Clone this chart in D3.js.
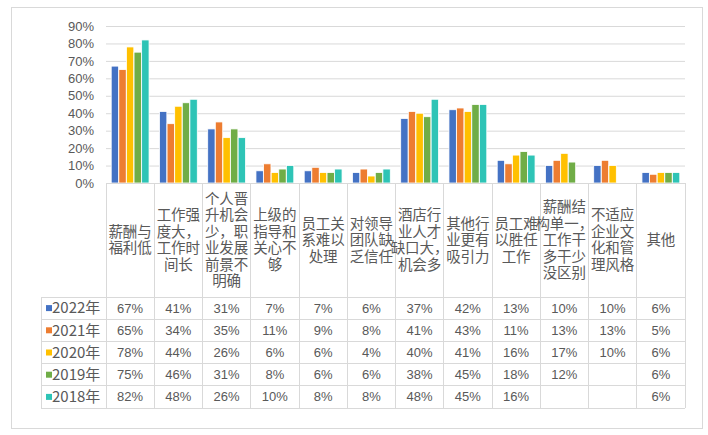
<!DOCTYPE html>
<html>
<head>
<meta charset="utf-8">
<script src="https://cdn.jsdelivr.net/npm/d3@7"></script>
<style>
  body { margin: 0; background: #fff; }
</style>
</head>
<body>
<div id="chart"></div>
<script>
// 数据
var categories = [
    "薪酬与福利低",
    "工作强度大，工作时间长",
    "个人晋升机会少，职业发展前景不明确",
    "上级的指导和关心不够",
    "员工关系难以处理",
    "对领导团队缺乏信任",
    "酒店行业人才缺口大，机会多",
    "其他行业更有吸引力",
    "员工难以胜任工作",
    "薪酬结构单一，工作干多干少没区别",
    "不适应企业文化和管理风格",
    "其他"
];
var years = ["2022年", "2021年", "2020年", "2019年", "2018年"];
var v2022 = [67, 41, 31, 7, 7, 6, 37, 42, 13, 10, 10, 6];
var v2021 = [65, 34, 35, 11, 9, 8, 41, 43, 11, 13, 13, 5];
var v2020 = [78, 44, 26, 6, 6, 4, 40, 41, 16, 17, 10, 6];
var v2019 = [75, 46, 31, 8, 6, 6, 38, 45, 18, 12, null, 6];
var v2018 = [82, 48, 26, 10, 8, 8, 48, 45, 16, null, null, 6];
var yTicks = [0, 0.1, 0.2, 0.3, 0.4, 0.5, 0.6, 0.7, 0.8, 0.9];
var colors = ["#4472C4", "#ED7D31", "#FFC000", "#70AD47", "#2EC4B6"];

var series = [v2022, v2021, v2020, v2019, v2018];

var width = 708;
var height = 435;
var left = 106, right = 685;
var plotTop = 26, plotBottom = 183;
var headerBottom = 297;
var rowH = 22.2;
var tableLeft = 41;
var gridColor = "#D9D9D9";
var textColor = "#595959";
var cjk = "'Noto Sans CJK SC', 'Microsoft YaHei', sans-serif";

var svg = d3.select('#chart')
    .append('svg')
    .attr('width', width)
    .attr('height', height);

// 外框
svg.append('rect')
    .attr('x', 11.5)
    .attr('y', 7.5)
    .attr('width', 691)
    .attr('height', 421)
    .attr('fill', 'none')
    .attr('stroke', gridColor);

// 比例尺
var xscale = d3.scaleBand()
    .domain(categories)
    .range([left, right])
    .padding(0);

var xinner = d3.scaleBand()
    .domain(years)
    .range([0, xscale.bandwidth()])
    .paddingInner(0.16)
    .paddingOuter(0.75);

var yscale = d3.scaleLinear()
    .domain([0, 0.9])
    .range([plotBottom, plotTop]);

// Y轴与网格线
var yaxis = d3.axisLeft(yscale)
    .tickValues(yTicks)
    .tickFormat(d3.format('.0%'))
    .tickSize(-(right - left))
    .tickPadding(12);

var gy = svg.append('g')
    .attr('transform', 'translate(' + left + ',0)')
    .call(yaxis);
gy.select('.domain').remove();
gy.selectAll('.tick line')
    .attr('stroke', gridColor)
    .attr('stroke-width', 1);
gy.selectAll('.tick text')
    .attr('fill', textColor)
    .style('font-size', '13px')
    .style('font-family', "'Liberation Sans', 'Open Sans', sans-serif");

// 柱子
var bars = [];
series.forEach(function(vals, si) {
    vals.forEach(function(v, ci) {
        if (v !== null) bars.push({ cat: categories[ci], year: years[si], value: v / 100, color: colors[si] });
    });
});

svg.append('g')
    .selectAll('rect')
    .data(bars)
    .enter()
    .append('rect')
    .attr('x', d => xscale(d.cat) + xinner(d.year) - 0.5)
    .attr('y', d => yscale(d.value))
    .attr('width', xinner.bandwidth() + 1)
    .attr('height', d => yscale(0) - yscale(d.value))
    .attr('fill', d => d.color)
    .attr('stroke', '#fff')
    .attr('stroke-width', 0.8);

// 表格线
var rowY = years.map((y, i) => headerBottom + i * rowH);
var tableBottom = headerBottom + years.length * rowH;

var lines = svg.append('g')
    .attr('stroke', gridColor)
    .attr('stroke-width', 1)
    .attr('shape-rendering', 'crispEdges');

lines.append('line')
    .attr('x1', left).attr('x2', right)
    .attr('y1', plotBottom).attr('y2', plotBottom);

lines.selectAll('.hrow')
    .data(rowY.concat([tableBottom]))
    .enter()
    .append('line')
    .attr('x1', tableLeft).attr('x2', right)
    .attr('y1', d => d).attr('y2', d => d);

lines.selectAll('.vcol')
    .data(categories.map(c => xscale(c)).concat([right]))
    .enter()
    .append('line')
    .attr('x1', d => d).attr('x2', d => d)
    .attr('y1', plotBottom).attr('y2', tableBottom);

lines.append('line')
    .attr('x1', tableLeft).attr('x2', tableLeft)
    .attr('y1', headerBottom).attr('y2', tableBottom);

// 分类标签（每行三个字，标点跟随上一行）
function wrapLabel(s) {
    var chars = Array.from(s);
    var out = [], cur = "";
    chars.forEach(function(ch) {
        if (cur.length >= 3 && "，,、。".indexOf(ch) < 0) {
            out.push(cur);
            cur = "";
        }
        cur += ch;
    });
    if (cur) out.push(cur);
    return out;
}

var lineH = 16.5;
var headerMid = (plotBottom + headerBottom) / 2;

categories.forEach(function(c) {
    var parts = wrapLabel(c);
    var t = svg.append('text')
        .attr('text-anchor', 'middle')
        .attr('fill', textColor)
        .style('font-size', '14.5px')
        .style('font-family', cjk);
    parts.forEach(function(p, i) {
        t.append('tspan')
            .attr('x', xscale(c) + xscale.bandwidth() / 2)
            .attr('y', headerMid - (parts.length - 1) * lineH / 2 + i * lineH)
            .attr('dy', '0.35em')
            .text(p);
    });
});

// 图例列
years.forEach(function(y, i) {
    var cy = rowY[i] + rowH / 2;
    svg.append('rect')
        .attr('x', 46)
        .attr('y', cy - 3)
        .attr('width', 6)
        .attr('height', 6)
        .attr('fill', colors[i]);
    svg.append('text')
        .attr('x', 52)
        .attr('y', cy)
        .attr('dy', '0.35em')
        .attr('fill', textColor)
        .style('font-size', '15px')
        .style('font-family', cjk)
        .text(y);
});

// 表格数值
series.forEach(function(vals, si) {
    vals.forEach(function(v, ci) {
        if (v === null) return;
        svg.append('text')
            .attr('x', xscale(categories[ci]) + xscale.bandwidth() / 2)
            .attr('y', rowY[si] + rowH / 2)
            .attr('dy', '0.35em')
            .attr('text-anchor', 'middle')
            .attr('fill', textColor)
            .style('font-size', '13px')
            .style('font-family', "'Liberation Sans', 'Open Sans', sans-serif")
            .text(v + '%');
    });
});
</script>
</body>
</html>
